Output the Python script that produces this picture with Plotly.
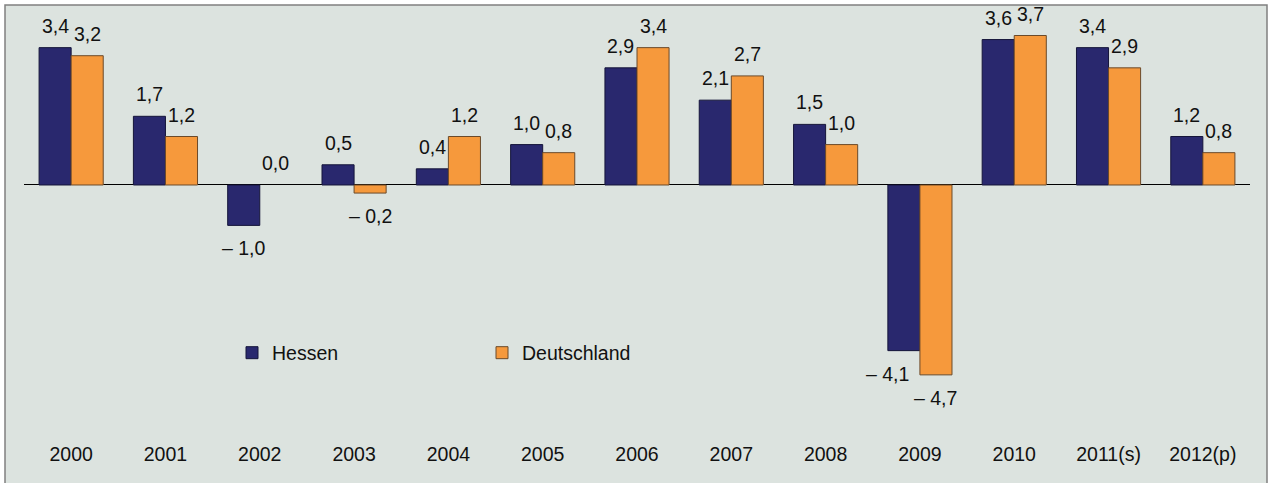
import plotly.graph_objects as go

years = ["2000", "2001", "2002", "2003", "2004", "2005", "2006", "2007",
         "2008", "2009", "2010", "2011(s)", "2012(p)"]
hessen = [3.4, 1.7, -1.0, 0.5, 0.4, 1.0, 2.9, 2.1, 1.5, -4.1, 3.6, 3.4, 1.2]
deutschland = [3.2, 1.2, 0.0, -0.2, 1.2, 0.8, 3.4, 2.7, 1.0, -4.7, 3.7, 2.9, 0.8]

C_HESSEN = "#29286e"
C_DE = "#f6993c"
BG = "#dce3df"
FONT = "Arial, Liberation Sans, sans-serif"
FS = 19.5

W, H = 1273, 483
L, R, T, B = 24, W - 1250, 20, H - 440
plot_w = W - L - R
plot_h = H - T - B

BARGAP = 0.32
bw = (1 - BARGAP) / 2


def fmt(v):
    s = f"{abs(v):.1f}".replace(".", ",")
    return ("\u2013 " + s) if v < 0 else s


def outline(vals):
    return [0 if v == 0 else 1 for v in vals]


fig = go.Figure()
fig.add_trace(go.Bar(name="Hessen", x=years, y=hessen,
                     marker=dict(color=C_HESSEN,
                                 line=dict(color="#15153a", width=outline(hessen)))))
fig.add_trace(go.Bar(name="Deutschland", x=years, y=deutschland,
                     marker=dict(color=C_DE,
                                 line=dict(color="#6b4a2a", width=outline(deutschland)))))

annotations = []
for k, (series, other, off) in enumerate(((hessen, deutschland, -bw / 2),
                                          (deutschland, hessen, bw / 2))):
    for i, v in enumerate(series):
        xs = 0
        if k == 0 and v < 0 and other[i] < 0:
            xs = -16
        annotations.append(dict(
            x=i + off, y=v, xref="x", yref="y", text=fmt(v), showarrow=False,
            xanchor="center", yanchor="middle", xshift=xs,
            yshift=(-23 if v < 0 else 22),
            font=dict(family=FONT, size=FS, color="#111111")))

# frame of the chart (background panel with grey border)
px2x = lambda p: (p - L) / plot_w
py2y = lambda p: (H - B - p) / plot_h
shapes = [dict(type="rect", xref="paper", yref="paper", layer="below",
               x0=px2x(5), x1=px2x(1267), y0=py2y(495), y1=py2y(5),
               fillcolor=BG, line=dict(color="#808080", width=1.5))]

fig.update_layout(
    width=W, height=H,
    margin=dict(l=L, r=R, t=T, b=B, pad=0),
    paper_bgcolor="white",
    plot_bgcolor="rgba(0,0,0,0)",
    barmode="group", bargap=BARGAP, bargroupgap=0,
    font=dict(family=FONT, size=FS, color="#111111"),
    xaxis=dict(type="category", showline=False, showgrid=False, ticks="",
               tickfont=dict(size=FS), range=[-0.5, len(years) - 0.5]),
    yaxis=dict(range=[-6.312, 4.084], showticklabels=False, showgrid=False,
               zeroline=True, zerolinecolor="#000000", zerolinewidth=1, showline=False),
    legend=dict(orientation="h", x=px2x(232), y=py2y(353), xanchor="left", yanchor="middle",
                bgcolor="rgba(0,0,0,0)", entrywidth=205, entrywidthmode="pixels",
                font=dict(size=FS), traceorder="normal"),
    annotations=annotations,
    shapes=shapes,
)

fig.write_html("out.html")
